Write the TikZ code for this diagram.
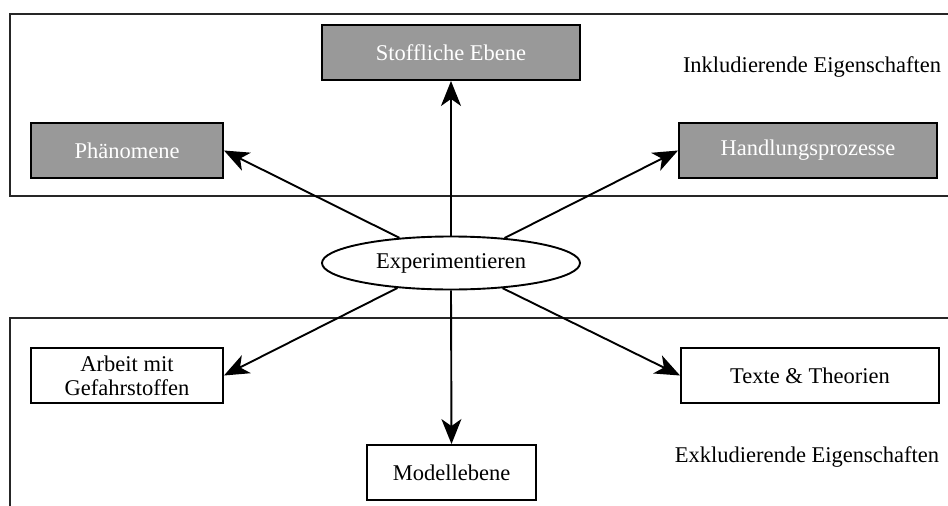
\documentclass[tikz,border=0pt]{standalone}
\usepackage{fontspec}
\setmainfont{Liberation Serif}
\usetikzlibrary{arrows.meta,shapes.geometric}
\definecolor{boxgray}{RGB}{153,153,153}
\tikzset{
  frameline/.style={line width=1.9pt, black!85},
  basebox/.style={draw, line width=1.9pt, minimum height=55pt, inner sep=2pt,
    align=center, font=\fontsize{22.5}{24}\selectfont},
  greybox/.style={basebox, fill=boxgray, text=white},
  whitebox/.style={basebox, fill=white},
  centre/.style={draw, ellipse, line width=1.9pt, minimum width=258pt,
    minimum height=53pt, inner sep=0pt, fill=white, font=\fontsize{22.5}{24}\selectfont},
  caption/.style={font=\fontsize{22.5}{24}\selectfont, inner sep=0pt},
  link/.style={line width=1.9pt, -{Stealth[length=25pt,width=20pt,inset=7pt]}}
}
\begin{document}
\begin{tikzpicture}[x=1pt,y=-1pt]
  \useasboundingbox (0,0) rectangle (948,506);
  % the two property frames, open towards the right and the bottom
  \draw[frameline] (948,14) -- (10,14) -- (10,196) -- (948,196);
  \draw[frameline] (948,318) -- (10,318) -- (10,506);

  % upper group: including properties
  \node[greybox, minimum width=258pt] (stoff) at (451,52.5) {Stoffliche Ebene};
  \node[greybox, minimum width=192pt] (phaen) at (127,150.5) {Phänomene};
  \node[greybox, minimum width=258pt] (handl) at (808,150.5) {Handlungsprozesse};
  \node[caption] (inkl) at (812,67) {Inkludierende Eigenschaften};

  % lower group: excluding properties
  \node[whitebox, minimum width=192pt] (arbeit) at (127,375.5) {Arbeit mit\\Gefahrstoffen};
  \node[whitebox, minimum width=258pt] (texte) at (810,375.5) {Texte \& Theorien};
  \node[whitebox, minimum width=169pt] (modell) at (451.5,472.5) {Modellebene};
  \node[caption] (exkl) at (807,457) {Exkludierende Eigenschaften};

  % central node
  \node[centre] (exp) at (451,263) {Experimentieren};

  % connectors
  \draw[link] (exp.north) -- (stoff.south);
  \draw[link] (exp.154.5) -- (phaen.east);
  \draw[link] (exp.25.5) -- (handl.west);
  \draw[link] (exp.205.5) -- (arbeit.east);
  \draw[link] (exp.334.5) -- (texte.west);
  \draw[link] (exp.south) -- (modell.north);
\end{tikzpicture}
\end{document}
